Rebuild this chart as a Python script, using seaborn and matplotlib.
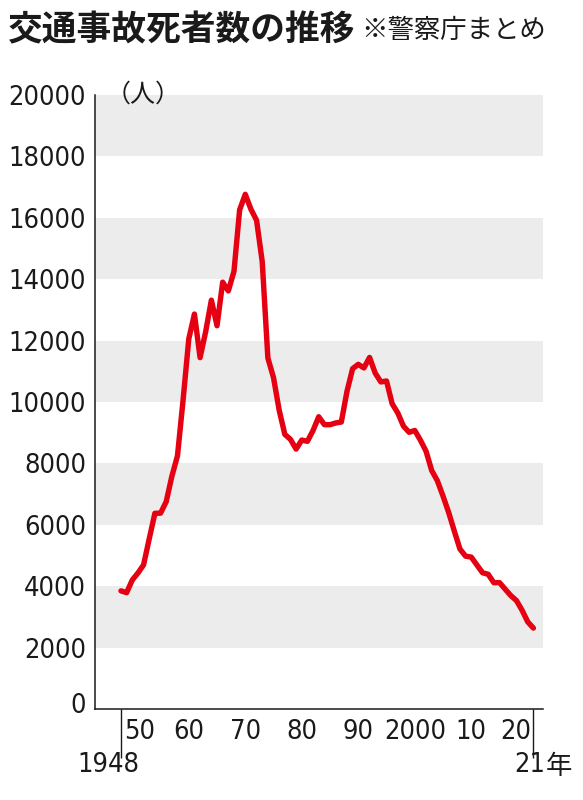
"""
交通事故死者数の推移（警察庁まとめ）を折れ線グラフで描く。
"""

import os
import matplotlib
matplotlib.use('Agg')
import matplotlib.pyplot as plt
import matplotlib.transforms as mtransforms
from matplotlib import font_manager
from matplotlib.ticker import FixedLocator
import seaborn as sns
import pandas as pd

# データ（年, 死者数）
YEARS = list(range(1948, 2022))
DEATHS = [
    3848, 3790, 4202, 4429, 4696, 5544, 6374, 6379, 6751, 7575,   # 1948-57
    8248, 10079, 12055, 12865, 11445, 12301, 13318, 12484, 13904, 13618,  # 58-67
    14256, 16257, 16765, 16278, 15918, 14574, 11432, 10792, 9734, 8945,  # 68-77
    8783, 8466, 8760, 8719, 9073, 9520, 9262, 9261, 9317, 9347,  # 78-87
    10344, 11086, 11227, 11109, 11452, 10942, 10653, 10684, 9943, 9642,  # 88-97
    9214, 9012, 9073, 8757, 8396, 7768, 7436, 6937, 6403, 5796,  # 98-2007
    5209, 4979, 4948, 4691, 4438, 4388, 4113, 4117, 3904, 3694,  # 08-17
    3532, 3215, 2839, 2636,  # 18-21
]
Y_TICKS = list(range(0, 20001, 2000))
DECADES = [1950, 1960, 1970, 1980, 1990, 2000, 2010, 2020]
DECADE_LABELS = ['50', '60', '70', '80', '90', '2000', '10', '20']

TITLE = '交通事故死者数の推移'
NOTE = '※警察庁まとめ'
UNIT = '（人）'
FIRST_LABEL = '1948'
LAST_NUM = '21'
LAST_UNIT = '年'

RED = '#e50012'
BAND = '#ececec'
INK = '#1a1a1a'
JP_FONT = ['Noto Sans CJK JP', 'DejaVu Sans']
NUM_SIZE = 19.5


def narrow_font(size):
    """数字用に幅の狭いフォントを探す"""
    wanted = ['NotoSans-SemiCondensed.ttf', 'LiberationSansNarrow-Regular.ttf',
              'NotoSans-Condensed.ttf', 'DejaVuSansCondensed.ttf',
              'LiberationSans-Regular.ttf']
    files = {os.path.basename(f.fname): f.fname for f in font_manager.fontManager.ttflist}
    for name in wanted:
        if name in files:
            return font_manager.FontProperties(fname=files[name], size=size)
    return font_manager.FontProperties(family='Liberation Sans', size=size)


sns.set_style('white')
plt.rcParams['font.family'] = ['Noto Sans CJK JP', 'DejaVu Sans']

num_fp = narrow_font(NUM_SIZE)

df = pd.DataFrame({'year': YEARS, 'deaths': DEATHS})

fig = plt.figure(figsize=(5.83, 8.0), dpi=100)
ax = fig.add_axes([95 / 583, 1 - 709 / 800, (543 - 95) / 583, (709 - 95) / 800])

# 背景の帯（1つおき）
for lo, hi in zip(Y_TICKS[1::2], Y_TICKS[2::2]):
    ax.axhspan(lo, hi, color=BAND, lw=0, zorder=0)

sns.lineplot(data=df, x='year', y='deaths', color=RED, linewidth=3.9,
             ax=ax, zorder=3, solid_joinstyle='round', solid_capstyle='round')

ax.set_xlim(1943.4, 2022.7)
ax.set_ylim(0, 20000)
ax.set_xlabel('')
ax.set_ylabel('')

for side in ['top', 'right']:
    ax.spines[side].set_visible(False)
for side in ['left', 'bottom']:
    ax.spines[side].set_linewidth(1.1)
    ax.spines[side].set_color(INK)

ax.set_yticks(Y_TICKS)
ax.set_yticklabels([str(v) for v in Y_TICKS])
ax.tick_params(axis='y', direction='in', length=8.5, width=1.0, color=INK,
               pad=6.5, labelcolor=INK)

ax.set_xticks(DECADES)
ax.set_xticklabels(DECADE_LABELS)
ax.xaxis.set_minor_locator(FixedLocator(YEARS))
ax.tick_params(axis='x', which='major', direction='in', length=10, width=0.9,
               color=INK, pad=7.5, labelcolor=INK)
ax.tick_params(axis='x', which='minor', direction='in', length=5, width=0.9,
               color=INK)
ax.grid(False)

for lbl in ax.get_yticklabels() + ax.get_xticklabels():
    lbl.set_fontproperties(num_fp)

# 両端の年の縦線
ax.vlines([YEARS[0], YEARS[-1]], -0.08, 0.0, colors=INK, linewidth=1.0,
          transform=ax.get_xaxis_transform(), clip_on=False)


def shifted(base, dx, dy=0):
    return base + mtransforms.ScaledTranslation(dx / 100, dy / 100, fig.dpi_scale_trans)


# 端のラベルを少しずらす
labels = ax.get_xticklabels()
labels[0].set_transform(shifted(labels[0].get_transform(), 7))
labels[-1].set_transform(shifted(labels[-1].get_transform(), -12))
ylabels = ax.get_yticklabels()
ylabels[0].set_transform(shifted(ylabels[0].get_transform(), 0, 6))

trans = ax.get_xaxis_transform()
t = ax.text(YEARS[0], -0.091, FIRST_LABEL, ha='center', va='center',
            fontproperties=num_fp, color=INK)
t.set_transform(shifted(trans, -13))
t = ax.text(YEARS[-1], -0.091, LAST_NUM, ha='right', va='center',
            fontproperties=num_fp, color=INK)
t.set_transform(shifted(trans, 12))
t = ax.text(YEARS[-1], -0.093, LAST_UNIT, ha='left', va='center',
            fontsize=19, color=INK, family=JP_FONT)
t.set_transform(shifted(trans, 12))

# 単位
ax.text(0.024, 1.0, UNIT, transform=ax.transAxes, ha='left', va='center',
        fontsize=18, color=INK, family=JP_FONT)

# タイトル
fig.text(8 / 583, 1 - 30 / 800, TITLE, ha='left', va='center', fontsize=25,
         fontweight='bold', color=INK, family=JP_FONT)
fig.text(361 / 583, 1 - 31 / 800, NOTE, ha='left', va='center', fontsize=19,
         color=INK, family=JP_FONT)

plt.savefig('out.png', dpi=100)
plt.close()
